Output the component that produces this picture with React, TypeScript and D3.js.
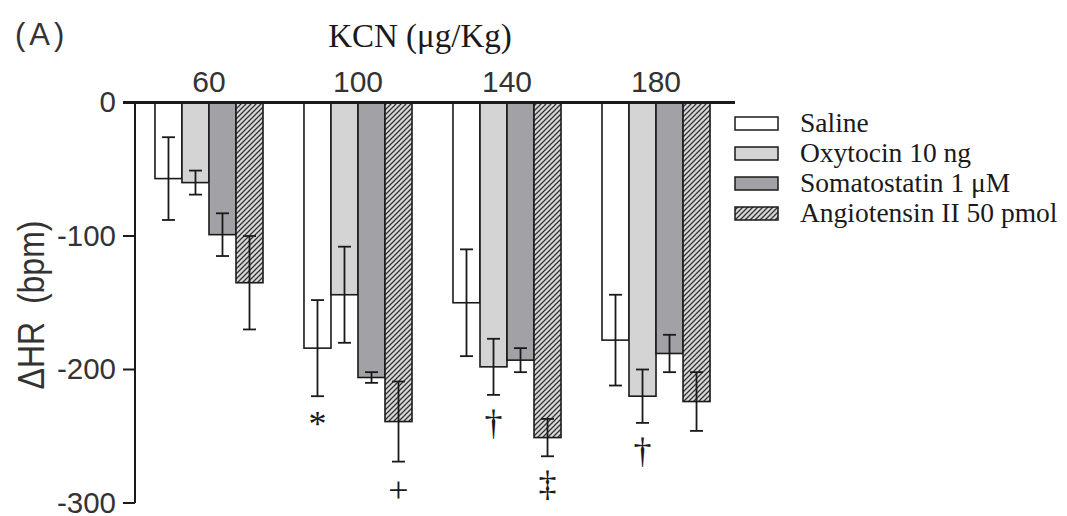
import React from "react";
import * as d3 from "d3";

// KCN doses (µg/Kg)
const categories = ["60", "100", "140", "180"];
const seriesNames = ["Saline", "Oxytocin 10 ng", "Somatostatin 1 \u03bcM", "Angiotensin II 50 pmol"];

// ΔHR means and SEM (bpm), one array per treatment, ordered by dose
const salineMean = [-57, -184, -150, -178];
const salineSem = [31, 36, 40, 34];
const oxytocinMean = [-60, -144, -198, -220];
const oxytocinSem = [9, 36, 21, 20];
const somatostatinMean = [-99, -206, -193, -188];
const somatostatinSem = [16, 4, 9, 14];
const angiotensinMean = [-135, -239, -251, -224];
const angiotensinSem = [35, 30, 14, 22];

const yTicks = [0, -100, -200, -300];

// significance marks: dose, series index, symbol
const marks = [
  { cat: "100", series: 0, symbol: "*" },
  { cat: "100", series: 3, symbol: "+" },
  { cat: "140", series: 1, symbol: "\u2020" },
  { cat: "140", series: 3, symbol: "\u2021" },
  { cat: "180", series: 1, symbol: "\u2020" },
];

const means = [salineMean, oxytocinMean, somatostatinMean, angiotensinMean];
const sems = [salineSem, oxytocinSem, somatostatinSem, angiotensinSem];
const fills = ["#ffffff", "#d4d4d4", "#a2a2a6", "url(#hatch)"];

const W = 1067;
const H = 516;
const SANS = "'Liberation Sans', Arial, sans-serif";
const SERIF = "'Liberation Serif', 'Times New Roman', serif";
const INK = "#1a1a1a";

export default function App() {
  const axisX = 135;
  const x0 = d3.scaleBand<string>().domain(categories).range([axisX, 730]).paddingInner(0.275).paddingOuter(0.134);
  const x1 = d3.scaleBand<number>().domain(d3.range(seriesNames.length)).range([0, x0.bandwidth()]);
  const y = d3.scaleLinear().domain([0, -300]).range([102.5, 503]);

  const bars = categories.flatMap((c, ci) =>
    seriesNames.map((_, si) => ({
      cat: c,
      si,
      mean: means[si][ci],
      sem: sems[si][ci],
      x: (x0(c) ?? 0) + (x1(si) ?? 0),
      w: x1.bandwidth(),
    }))
  );

  const capHalf = 6.5;
  const legendX = 735;
  const legendY = d3.scalePoint<number>().domain(d3.range(seriesNames.length)).range([123.5, 213.5]);

  return (
    <svg width={W} height={H} style={{ position: "absolute", left: 0, top: 0, display: "block", background: "#fff" }}>
      <defs>
        <pattern id="hatch" patternUnits="userSpaceOnUse" width={5} height={5}>
          <rect width={5} height={5} fill="#d8d8d8" />
          <path d="M-1,1 l2,-2 M0,5 l5,-5 M4,6 l2,-2" stroke="#333" strokeWidth={1.3} />
        </pattern>
      </defs>

      {/* panel letter and dose title */}
      <text x={15} y={45} fontFamily={SANS} fontSize={31} letterSpacing={4} fill="#333">(A)</text>
      <text x={420} y={47} textAnchor="middle" fontFamily={SERIF} fontSize={33} fill={INK}>
        {"KCN (\u03bcg/Kg)"}
      </text>

      {/* dose labels above the groups */}
      {categories.map((c) => (
        <text key={c} x={(x0(c) ?? 0) + x0.bandwidth() / 2} y={92} textAnchor="middle" fontFamily={SANS} fontSize={30} fill="#333">
          {c}
        </text>
      ))}

      {/* bars */}
      {bars.map((b) => (
        <rect
          key={`${b.cat}-${b.si}`}
          x={b.x}
          y={y(0)}
          width={b.w}
          height={y(b.mean) - y(0)}
          fill={fills[b.si]}
          stroke={INK}
          strokeWidth={1.6}
        />
      ))}

      {/* error bars */}
      {bars.map((b) => {
        const cx = b.x + b.w / 2;
        const yt = y(b.mean + b.sem);
        const yb = y(b.mean - b.sem);
        return (
          <g key={`e-${b.cat}-${b.si}`} stroke={INK} strokeWidth={1.8}>
            <line x1={cx} x2={cx} y1={yt} y2={yb} />
            <line x1={cx - capHalf} x2={cx + capHalf} y1={yt} y2={yt} />
            <line x1={cx - capHalf} x2={cx + capHalf} y1={yb} y2={yb} />
          </g>
        );
      })}

      {/* significance marks */}
      {marks.map((m, i) => {
        const ci = categories.indexOf(m.cat);
        const b = bars.find((d) => d.cat === m.cat && d.si === m.series)!;
        const yb = y(means[m.series][ci] - sems[m.series][ci]);
        return (
          <text key={i} x={b.x + b.w / 2} y={yb + 40} textAnchor="middle" fontFamily={SERIF} fontSize={36} fill={INK}>
            {m.symbol}
          </text>
        );
      })}

      {/* zero line */}
      <line x1={axisX - 12} x2={735} y1={y(0)} y2={y(0)} stroke={INK} strokeWidth={3} />

      {/* y axis */}
      <line x1={axisX} x2={axisX} y1={y(0)} y2={y(-300)} stroke={INK} strokeWidth={2} />
      {yTicks.map((t) => (
        <g key={t}>
          <line x1={axisX - 12} x2={axisX} y1={y(t)} y2={y(t)} stroke={INK} strokeWidth={2} />
          <text x={116} y={y(t) + 9.5} textAnchor="end" fontFamily={SANS} fontSize={29.5} fill="#333">
            {t === 0 ? "0" : `-${Math.abs(t)}`}
          </text>
        </g>
      ))}
      <text
        transform={`translate(44,305) rotate(-90) scale(1,1.15)`}
        textAnchor="middle"
        fontFamily={SANS}
        fontSize={32}
        fill="#333"
        style={{ whiteSpace: "pre" }}
      >
        {"\u0394HR  (bpm)"}
      </text>

      {/* legend */}
      {seriesNames.map((n, si) => {
        const cy = legendY(si) ?? 0;
        return (
          <g key={n}>
            <rect x={legendX} y={cy - 6.5} width={43} height={13} fill={fills[si]} stroke={INK} strokeWidth={1.5} />
            <text x={800} y={cy + 8.5} fontFamily={SERIF} fontSize={27.5} fill={INK}>
              {n}
            </text>
          </g>
        );
      })}
    </svg>
  );
}
